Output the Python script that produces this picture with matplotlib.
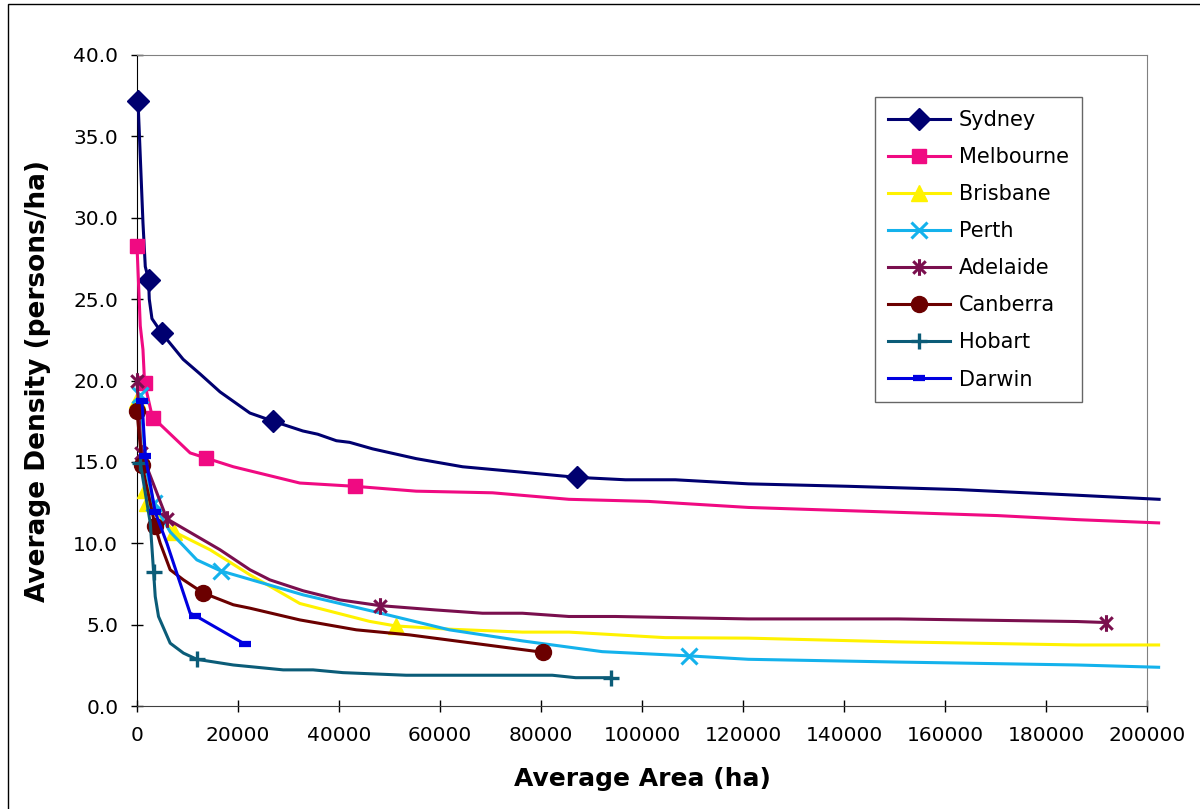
import matplotlib
matplotlib.use("Agg")
import matplotlib.pyplot as plt
from matplotlib.path import Path
from matplotlib.patches import Rectangle

# values (area in ha, density in persons/ha)
sydney_area = [200, 1180, 1640, 2290, 2430, 2960, 4930, 9140, 12500, 16440, 22360, 26960,
               32830, 35790, 39480, 42110, 46650, 55270, 64470, 75010, 87050, 96730,
               106600, 121070, 140800, 162500, 186200, 202400]
sydney_dens = [37.2, 29.7, 27.0, 26.2, 25.0, 23.8, 22.9, 21.3, 20.4, 19.3, 18.0, 17.5,
               16.9, 16.7, 16.3, 16.2, 15.8, 15.2, 14.7, 14.4, 14.05, 13.9,
               13.9, 13.65, 13.5, 13.3, 12.95, 12.7]
sydney_marks = [0, 3, 6, 11, 20]

melb_area = [0, 650, 1180, 1500, 3080, 4600, 10520, 13620, 19070, 32240, 43090, 55270,
             70390, 85530, 101320, 121060, 150700, 170400, 186200, 202300]
melb_dens = [28.27, 23.35, 21.9, 19.86, 17.7, 17.3, 15.55, 15.24, 14.7, 13.7, 13.5, 13.2,
             13.1, 12.7, 12.57, 12.2, 11.9, 11.7, 11.45, 11.25]
melb_marks = [0, 3, 4, 7, 10]

bris_area = [0, 850, 1640, 1970, 7360, 14470, 22370, 32240, 46050, 51190, 61850, 76320,
             85530, 104620, 121060, 150700, 186200, 202300]
bris_dens = [18.8, 15.75, 13.3, 12.5, 10.7, 9.6, 8.06, 6.3, 5.2, 4.92, 4.72, 4.54,
             4.54, 4.2, 4.17, 3.94, 3.75, 3.75]
bris_marks = [0, 2, 3, 4, 9]

perth_area = [650, 1840, 3280, 6570, 11840, 16580, 20390, 32890, 47380, 61850, 76320,
              92110, 109290, 121060, 150700, 186200, 202300]
perth_dens = [19.1, 14.5, 12.47, 10.7, 8.98, 8.3, 7.96, 6.83, 5.77, 4.68, 4.0,
              3.34, 3.08, 2.87, 2.7, 2.52, 2.38]
perth_marks = [0, 2, 5, 12]

adel_area = [0, 850, 5920, 16440, 22370, 26310, 32890, 40150, 48030, 59220, 68420, 76320,
             85530, 94750, 121060, 150700, 186200, 191800]
adel_dens = [19.96, 15.57, 11.5, 9.6, 8.37, 7.75, 7.08, 6.52, 6.17, 5.9, 5.7, 5.7,
             5.5, 5.5, 5.35, 5.35, 5.19, 5.13]
adel_marks = [0, 1, 2, 8, 17]

canb_area = [0, 990, 3610, 4600, 6570, 9200, 13150, 19070, 22370, 32240, 43430, 53950,
             71710, 80400]
canb_dens = [18.1, 14.83, 11.03, 10.0, 8.37, 7.75, 6.94, 6.22, 6.01, 5.29, 4.68, 4.37,
             3.65, 3.3]
canb_marks = [0, 1, 2, 6, 13]

hob_area = [650, 2630, 3280, 3610, 4260, 6570, 9200, 11840, 19070, 28940, 34860, 40780,
            53300, 82240, 86860, 93960]
hob_dens = [14.94, 11.24, 8.26, 6.73, 5.5, 3.86, 3.25, 2.87, 2.52, 2.22, 2.22, 2.05,
            1.89, 1.89, 1.74, 1.74]
hob_marks = [0, 2, 7, 15]

darw_area = [990, 1640, 3610, 5920, 10520, 11510, 21380]
darw_dens = [18.73, 15.38, 11.9, 10.0, 5.7, 5.56, 3.8]
darw_marks = [0, 1, 2, 5, 6]

# excel style asterisk: vertical bar plus two diagonals
star = Path([(0, -1), (0, 1), (-0.75, -0.75), (0.75, 0.75), (-0.75, 0.75), (0.75, -0.75)],
            [Path.MOVETO, Path.LINETO, Path.MOVETO, Path.LINETO, Path.MOVETO, Path.LINETO])

series = [
    ("Sydney", sydney_area, sydney_dens, sydney_marks, "#000070", "D", 11, 1),
    ("Melbourne", melb_area, melb_dens, melb_marks, "#F00A82", "s", 10.5, 1),
    ("Brisbane", bris_area, bris_dens, bris_marks, "#FFF200", "^", 12, 1),
    ("Perth", perth_area, perth_dens, perth_marks, "#14B2EC", "x", 11, 2.2),
    ("Adelaide", adel_area, adel_dens, adel_marks, "#7A0F4E", star, 12, 2.2),
    ("Canberra", canb_area, canb_dens, canb_marks, "#6B0000", "o", 11.5, 1),
    ("Hobart", hob_area, hob_dens, hob_marks, "#0B5C78", "+", 12, 2.4),
    ("Darwin", darw_area, darw_dens, darw_marks, "#0000E0", "_", 8, 4.5),
]

plt.rcParams['font.family'] = ['DejaVu Sans']

fig = plt.figure(figsize=(12, 8.09), dpi=100)
ax = fig.add_axes([137 / 1200, 1 - 706 / 809, (1147 - 137) / 1200, (706 - 55) / 809])

for name, xs, ys, marks, col, mk, ms, mew in series:
    ax.plot(xs, ys, color=col, lw=2.2, marker=mk, markevery=marks, ms=ms,
            mew=mew, mec=col, mfc=col, label=name, clip_on=False, zorder=3)

ax.set_xlim(0, 200000)
ax.set_ylim(0, 40)
ax.set_xticks(range(0, 200001, 20000))
ax.set_yticks([0, 5, 10, 15, 20, 25, 30, 35, 40])
ax.set_yticklabels(["%.1f" % v for v in ax.get_yticks()])
ax.tick_params(axis='both', direction='inout', length=9, width=1, labelsize=14.5,
               colors='#000000')
ax.tick_params(axis='x', pad=10)
ax.tick_params(axis='y', pad=9)

for s in ['top', 'right']:
    ax.spines[s].set_color('#808080')
ax.spines['left'].set_color('#000000')
ax.spines['bottom'].set_color('#404040')

ax.set_xlabel("Average Area (ha)", fontsize=18, fontweight='bold', labelpad=16)
ax.set_ylabel("Average Density (persons/ha)", fontsize=19, fontweight='bold', labelpad=16)

leg = ax.legend(loc='upper left', bbox_to_anchor=(875 / 1200, 1 - 97 / 809),
                bbox_transform=fig.transFigure, fontsize=15, frameon=True,
                fancybox=False, edgecolor='#404040', borderpad=0.62,
                labelspacing=0.82, handlelength=3.0, handletextpad=0.4,
                borderaxespad=0)
leg.get_frame().set_linewidth(1)

# outer chart border
fig.patches.append(Rectangle((8 / 1200, -0.02), 1.05, 1 - 4 / 809 + 0.02,
                             transform=fig.transFigure, fill=False,
                             edgecolor='#000000', lw=1))

fig.savefig("out.png", dpi=100)
